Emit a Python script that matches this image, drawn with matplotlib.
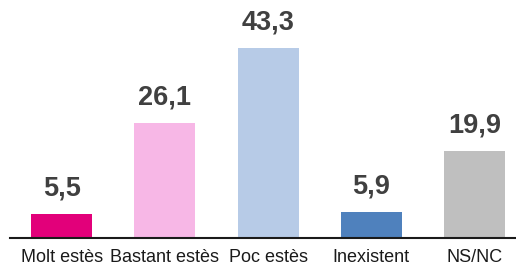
import matplotlib
matplotlib.use("Agg")
import matplotlib.pyplot as plt

categories = ["Molt estès", "Bastant estès", "Poc estès", "Inexistent", "NS/NC"]
values = [5.5, 26.1, 43.3, 5.9, 19.9]
labels = ["5,5", "26,1", "43,3", "5,9", "19,9"]
colors = ["#E2007A", "#F7B7E6", "#B7CBE7", "#4F81BD", "#BFBFBF"]

plt.rcParams['font.family'] = ['Liberation Sans', 'DejaVu Sans']

fig = plt.figure(figsize=(5.16, 2.68), dpi=100)
ax = fig.add_axes([10 / 516, 30 / 268, 506 / 516, 238 / 268])

x = range(len(categories))
bars = ax.bar(x, values, width=0.59, color=colors)

# value labels above each bar
for bar, lab in zip(bars, labels):
    ax.annotate(lab, (bar.get_x() + bar.get_width() / 2, bar.get_height()),
                xytext=(0, 9), textcoords="offset points",
                ha="center", va="bottom", fontsize=19.5, fontweight="bold",
                color="#404040")

ax.set_xlim(-0.5, 4.4)
ax.set_ylim(0, 54.2)
ax.set_xticks(list(x))
ax.set_xticklabels(categories, fontsize=13, color="#1a1a1a")
ax.tick_params(axis="x", length=0, pad=8)
ax.set_yticks([])
for side in ["top", "right", "left"]:
    ax.spines[side].set_visible(False)
ax.spines["bottom"].set_linewidth(1.5)
ax.spines["bottom"].set_color("#1a1a1a")

fig.savefig("out.png", dpi=100)
